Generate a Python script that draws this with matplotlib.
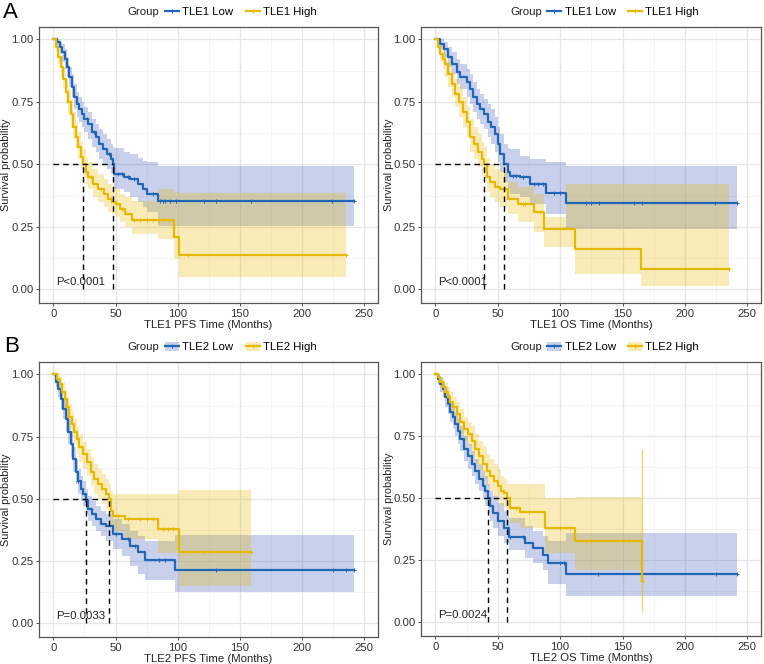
import numpy as np
import matplotlib
matplotlib.use("Agg")
from matplotlib import pyplot as plt
from matplotlib.lines import Line2D
from matplotlib.patches import Patch

plt.rcParams['font.family'] = ['Liberation Sans', 'DejaVu Sans']

BLUE = '#2167b8'
BLUE_FILL = '#4a64c0'
YEL = '#e7b800'
YEL_FILL = '#e7b800'
FS = 8.2

# ---- TLE1 PFS ----
pfs1_low_t = [0, 3, 5, 7, 9, 11, 13, 15, 17, 19, 21, 23, 25, 28, 31, 34, 37, 40, 43, 46, 48, 49, 57, 62, 68, 72, 75, 84, 242]
pfs1_low_s = [1.0, 0.99, 0.97, 0.95, 0.92, 0.89, 0.85, 0.81, 0.77, 0.74, 0.72, 0.70, 0.68, 0.66, 0.63, 0.61, 0.58, 0.56, 0.54, 0.52, 0.50, 0.46, 0.45, 0.44, 0.42, 0.40, 0.38, 0.355, 0.355]
pfs1_low_hi = [1.0, 1.0, 0.99, 0.98, 0.96, 0.93, 0.89, 0.86, 0.82, 0.79, 0.77, 0.75, 0.73, 0.71, 0.68, 0.66, 0.64, 0.62, 0.60, 0.58, 0.57, 0.565, 0.55, 0.54, 0.525, 0.515, 0.51, 0.495, 0.495]
pfs1_low_lo = [1.0, 0.97, 0.94, 0.91, 0.88, 0.85, 0.81, 0.77, 0.72, 0.69, 0.67, 0.65, 0.63, 0.60, 0.57, 0.55, 0.52, 0.50, 0.48, 0.46, 0.44, 0.40, 0.39, 0.37, 0.35, 0.33, 0.31, 0.255, 0.255]
pfs1_low_cens = [27, 33, 45, 52, 55, 60, 65, 80, 86, 88, 90, 94, 99, 121, 131, 159, 224, 242]

pfs1_high_t = [0, 2, 4, 6, 8, 10, 12, 14, 16, 18, 20, 22, 24, 26, 28, 32, 36, 41, 44, 47, 50, 54, 58, 63, 84, 97, 101, 235]
pfs1_high_s = [1.0, 0.97, 0.93, 0.89, 0.84, 0.79, 0.75, 0.70, 0.65, 0.61, 0.57, 0.53, 0.50, 0.47, 0.45, 0.42, 0.40, 0.38, 0.36, 0.35, 0.34, 0.32, 0.30, 0.277, 0.277, 0.208, 0.137, 0.137]
pfs1_high_hi = [1.0, 0.99, 0.97, 0.93, 0.89, 0.84, 0.80, 0.76, 0.71, 0.67, 0.63, 0.59, 0.56, 0.53, 0.51, 0.48, 0.46, 0.44, 0.42, 0.41, 0.40, 0.38, 0.37, 0.355, 0.40, 0.39, 0.385, 0.385]
pfs1_high_lo = [1.0, 0.95, 0.90, 0.85, 0.80, 0.74, 0.70, 0.65, 0.60, 0.56, 0.52, 0.48, 0.45, 0.42, 0.40, 0.37, 0.35, 0.33, 0.31, 0.30, 0.29, 0.27, 0.25, 0.22, 0.20, 0.12, 0.05, 0.05]
pfs1_high_cens = [30, 38, 46, 55, 65, 70, 75, 80, 85, 88, 93, 108, 235]

# ---- TLE1 OS ----
os1_low_t = [0, 4, 7, 10, 13, 17, 20, 25, 28, 30, 33, 36, 39, 42, 45, 48, 50, 52, 55, 58, 60, 68, 76, 89, 105, 242]
os1_low_s = [1.0, 0.98, 0.96, 0.93, 0.90, 0.87, 0.85, 0.83, 0.80, 0.77, 0.74, 0.72, 0.70, 0.67, 0.65, 0.62, 0.58, 0.54, 0.50, 0.47, 0.455, 0.45, 0.42, 0.385, 0.345, 0.345]
os1_low_hi = [1.0, 1.0, 0.99, 0.97, 0.95, 0.92, 0.90, 0.88, 0.86, 0.83, 0.80, 0.78, 0.76, 0.74, 0.72, 0.69, 0.65, 0.62, 0.58, 0.565, 0.56, 0.535, 0.52, 0.51, 0.495, 0.495]
os1_low_lo = [1.0, 0.96, 0.93, 0.89, 0.86, 0.82, 0.80, 0.77, 0.74, 0.71, 0.68, 0.66, 0.64, 0.61, 0.58, 0.55, 0.51, 0.47, 0.43, 0.40, 0.38, 0.37, 0.34, 0.30, 0.24, 0.24]
os1_low_cens = [62, 65, 70, 79, 82, 86, 95, 100, 121, 125, 131, 159, 166, 224, 242]

os1_high_t = [0, 2, 4, 6, 8, 10, 13, 16, 19, 22, 25, 28, 31, 34, 37, 39, 41, 44, 48, 52, 58, 66, 79, 87, 105, 112, 165, 235]
os1_high_s = [1.0, 0.97, 0.94, 0.92, 0.90, 0.86, 0.82, 0.78, 0.75, 0.71, 0.67, 0.61, 0.58, 0.55, 0.52, 0.50, 0.45, 0.43, 0.41, 0.40, 0.36, 0.34, 0.31, 0.24, 0.24, 0.16, 0.08, 0.08]
os1_high_hi = [1.0, 0.99, 0.98, 0.96, 0.94, 0.91, 0.87, 0.84, 0.81, 0.77, 0.73, 0.68, 0.65, 0.62, 0.59, 0.57, 0.52, 0.50, 0.48, 0.47, 0.43, 0.41, 0.38, 0.29, 0.42, 0.42, 0.42, 0.42]
os1_high_lo = [1.0, 0.95, 0.91, 0.88, 0.85, 0.81, 0.77, 0.73, 0.69, 0.65, 0.61, 0.55, 0.52, 0.49, 0.46, 0.44, 0.39, 0.37, 0.35, 0.33, 0.30, 0.27, 0.23, 0.17, 0.17, 0.06, 0.013, 0.013]
os1_high_cens = [70, 72, 84, 235]

# ---- TLE2 PFS ----
pfs2_low_t = [0, 2, 4, 6, 8, 10, 12, 14, 16, 18, 20, 22, 24, 26, 28, 31, 34, 38, 42, 48, 55, 62, 68, 74, 98, 242]
pfs2_low_s = [1.0, 0.97, 0.94, 0.90, 0.86, 0.82, 0.77, 0.72, 0.66, 0.61, 0.57, 0.54, 0.52, 0.49, 0.46, 0.44, 0.42, 0.40, 0.39, 0.36, 0.34, 0.31, 0.285, 0.255, 0.213, 0.213]
pfs2_low_hi = [1.0, 0.99, 0.97, 0.94, 0.90, 0.86, 0.82, 0.77, 0.71, 0.66, 0.62, 0.59, 0.57, 0.54, 0.51, 0.49, 0.47, 0.45, 0.44, 0.42, 0.40, 0.37, 0.35, 0.33, 0.356, 0.356]
pfs2_low_lo = [1.0, 0.95, 0.91, 0.86, 0.82, 0.77, 0.72, 0.67, 0.61, 0.56, 0.52, 0.49, 0.47, 0.44, 0.41, 0.39, 0.37, 0.35, 0.33, 0.30, 0.27, 0.23, 0.20, 0.175, 0.124, 0.124]
pfs2_low_cens = [20, 30, 50, 60, 66, 85, 90, 131, 225, 235, 242]

pfs2_high_t = [0, 3, 5, 7, 9, 11, 13, 15, 17, 19, 21, 24, 27, 30, 33, 36, 39, 42, 44.5, 46, 48, 58, 84, 101, 159]
pfs2_high_s = [1.0, 0.98, 0.96, 0.93, 0.90, 0.87, 0.83, 0.80, 0.77, 0.74, 0.71, 0.68, 0.65, 0.61, 0.58, 0.56, 0.54, 0.52, 0.50, 0.45, 0.43, 0.42, 0.38, 0.285, 0.285]
pfs2_high_hi = [1.0, 1.0, 0.99, 0.97, 0.94, 0.91, 0.88, 0.85, 0.82, 0.79, 0.76, 0.73, 0.70, 0.67, 0.64, 0.62, 0.60, 0.58, 0.56, 0.53, 0.52, 0.52, 0.52, 0.536, 0.536]
pfs2_high_lo = [1.0, 0.96, 0.93, 0.89, 0.86, 0.82, 0.78, 0.75, 0.72, 0.68, 0.65, 0.62, 0.59, 0.55, 0.52, 0.50, 0.48, 0.46, 0.44, 0.39, 0.37, 0.34, 0.283, 0.15, 0.15]
pfs2_high_cens = [52, 60, 70, 75, 80, 88, 92, 96, 109, 121, 159]

# ---- TLE2 OS ----
os2_low_t = [0, 2, 4, 6, 8, 10, 12, 14, 16, 18, 20, 23, 26, 29, 32, 35, 38, 40, 42, 44, 46, 50, 55, 59, 72, 78, 86, 90, 105, 242]
os2_low_s = [1.0, 0.98, 0.96, 0.94, 0.91, 0.88, 0.85, 0.83, 0.80, 0.77, 0.74, 0.70, 0.67, 0.64, 0.61, 0.58, 0.55, 0.53, 0.50, 0.47, 0.44, 0.41, 0.38, 0.345, 0.32, 0.30, 0.27, 0.24, 0.195, 0.195]
os2_low_hi = [1.0, 1.0, 0.99, 0.97, 0.95, 0.92, 0.89, 0.87, 0.85, 0.82, 0.79, 0.75, 0.72, 0.69, 0.66, 0.64, 0.61, 0.59, 0.56, 0.53, 0.51, 0.48, 0.45, 0.42, 0.39, 0.37, 0.35, 0.33, 0.362, 0.362]
os2_low_lo = [1.0, 0.96, 0.93, 0.91, 0.87, 0.84, 0.81, 0.78, 0.75, 0.72, 0.69, 0.65, 0.62, 0.59, 0.56, 0.53, 0.50, 0.47, 0.44, 0.41, 0.38, 0.35, 0.32, 0.29, 0.26, 0.24, 0.21, 0.156, 0.105, 0.105]
os2_low_cens = [60, 70, 100, 103, 130, 225, 242]

os2_high_t = [0, 2, 4, 6, 8, 10, 12, 14, 17, 20, 23, 26, 29, 32, 35, 38, 41, 44, 47, 50, 53, 55, 57.5, 60, 68, 88, 112, 166]
os2_high_s = [1.0, 0.99, 0.97, 0.95, 0.93, 0.91, 0.89, 0.87, 0.84, 0.81, 0.78, 0.76, 0.73, 0.70, 0.67, 0.64, 0.61, 0.59, 0.57, 0.55, 0.53, 0.52, 0.50, 0.46, 0.445, 0.38, 0.33, 0.165]
os2_high_hi = [1.0, 1.0, 0.99, 0.98, 0.97, 0.95, 0.93, 0.91, 0.89, 0.86, 0.83, 0.81, 0.79, 0.76, 0.73, 0.71, 0.68, 0.66, 0.64, 0.62, 0.59, 0.58, 0.56, 0.56, 0.56, 0.50, 0.505, 0.70]
os2_high_lo = [1.0, 0.97, 0.95, 0.92, 0.90, 0.87, 0.85, 0.83, 0.79, 0.76, 0.73, 0.71, 0.67, 0.64, 0.61, 0.58, 0.55, 0.53, 0.51, 0.49, 0.47, 0.46, 0.44, 0.40, 0.38, 0.28, 0.213, 0.04]
os2_high_cens = [65, 75, 100, 108, 121, 125, 155, 166]

panels = [
    dict(name='TLE1', xlabel='TLE1 PFS Time (Months)', pval='P<0.0001',
         low=(pfs1_low_t, pfs1_low_s, pfs1_low_lo, pfs1_low_hi, pfs1_low_cens),
         high=(pfs1_high_t, pfs1_high_s, pfs1_high_lo, pfs1_high_hi, pfs1_high_cens)),
    dict(name='TLE1', xlabel='TLE1 OS Time (Months)', pval='P<0.0001',
         low=(os1_low_t, os1_low_s, os1_low_lo, os1_low_hi, os1_low_cens),
         high=(os1_high_t, os1_high_s, os1_high_lo, os1_high_hi, os1_high_cens)),
    dict(name='TLE2', xlabel='TLE2 PFS Time (Months)', pval='P=0.0033',
         low=(pfs2_low_t, pfs2_low_s, pfs2_low_lo, pfs2_low_hi, pfs2_low_cens),
         high=(pfs2_high_t, pfs2_high_s, pfs2_high_lo, pfs2_high_hi, pfs2_high_cens)),
    dict(name='TLE2', xlabel='TLE2 OS Time (Months)', pval='P=0.0024',
         low=(os2_low_t, os2_low_s, os2_low_lo, os2_low_hi, os2_low_cens),
         high=(os2_high_t, os2_high_s, os2_high_lo, os2_high_hi, os2_high_cens)),
]

# axes boxes in pixels (left, top, right, bottom) of a 764x664 canvas
boxes = [(39, 27, 378, 303), (421, 27, 761, 303), (39, 362, 378, 637), (421, 362, 761, 636)]

W, H = 764, 664
fig = plt.figure(figsize=(W / 100, H / 100), dpi=100)


def km(ax, data, color, fill, alpha):
    t, s, lo, hi, cens = [np.asarray(a, dtype=float) for a in data]
    ax.fill_between(t, lo, hi, step='post', color=fill, alpha=alpha, lw=0, zorder=2)
    if lo[-1] != lo[-2]:
        ax.vlines(t[-1], lo[-1], hi[-1], color=fill, alpha=alpha + 0.3, lw=1, zorder=2)
    ax.step(t, s, where='post', color=color, lw=1.6, zorder=4)
    idx = np.searchsorted(t, cens, side='right') - 1
    ax.plot(cens, s[idx], '+', color=color, ms=3.5, mew=0.7, zorder=5)
    return t[np.argmax(s <= 0.5)]


for i, (p, b) in enumerate(zip(panels, boxes)):
    l, tp, r, bt = b
    ax = fig.add_axes([l / W, 1 - bt / H, (r - l) / W, (bt - tp) / H])
    ax.set_xlim(-11.5, 261)
    ax.set_ylim(-0.055, 1.05)
    ax.set_xticks([0, 50, 100, 150, 200, 250])
    ax.set_xticks([25, 75, 125, 175, 225], minor=True)
    ax.set_yticks([0, 0.25, 0.5, 0.75, 1.0])
    ax.set_yticks([0.125, 0.375, 0.625, 0.875], minor=True)
    ax.set_yticklabels(['0.00', '0.25', '0.50', '0.75', '1.00'])
    ax.grid(True, which='major', color='#e6e6e6', lw=0.9, zorder=0)
    ax.grid(True, which='minor', color='#f0f0f0', lw=0.5, zorder=0)
    ax.set_axisbelow(True)
    for sp in ax.spines.values():
        sp.set_color('#555555')
        sp.set_linewidth(0.9)
    ax.tick_params(which='major', length=2.5, width=0.6, color='#333333', labelsize=FS,
                   labelcolor='#333333', pad=1.5)
    ax.tick_params(which='minor', length=0)

    m_low = km(ax, p['low'], BLUE, BLUE_FILL, 0.3)
    m_high = km(ax, p['high'], YEL, YEL_FILL, 0.28)

    # median lines
    ax.plot([0, max(m_low, m_high)], [0.5, 0.5], ls=(0, (4, 3)), color='black', lw=1, zorder=6)
    ax.vlines([m_low, m_high], 0, 0.5, linestyles=(0, (4, 3)), colors='black', lw=1, zorder=6)

    ax.text(2.5, 0.03, p['pval'], fontsize=FS, color='#222222', ha='left', va='center', zorder=7)
    ax.set_xlabel(p['xlabel'], fontsize=FS, color='#222222', labelpad=1)
    ax.set_ylabel('Survival probability', fontsize=7.8, color='#222222')
    ax.yaxis.set_label_coords(-27.5 / (r - l), 0.5)

    # legend
    ly = (bt - (tp - 15)) / (bt - tp)
    ax.text(0.262, ly, 'Group', transform=ax.transAxes, fontsize=FS, color='#222222',
            ha='left', va='center')
    if i < 2:
        handles = [Line2D([], [], color=BLUE, lw=1.6, marker='+', ms=3.5, mew=0.7),
                   Line2D([], [], color=YEL, lw=1.6, marker='+', ms=3.5, mew=0.7)]
    else:
        handles = [(Patch(color=BLUE_FILL, alpha=0.3, lw=0), Line2D([], [], color=BLUE, lw=1.6, marker='+', ms=3.5, mew=0.7)),
                   (Patch(color=YEL_FILL, alpha=0.28, lw=0), Line2D([], [], color=YEL, lw=1.6, marker='+', ms=3.5, mew=0.7))]
    ax.legend(handles, [p['name'] + ' Low', p['name'] + ' High'], ncol=2, frameon=False,
              loc='center left', bbox_to_anchor=(0.372, ly), fontsize=FS,
              handlelength=1.2, handleheight=0.9, handletextpad=0.3, columnspacing=1.1,
              borderaxespad=0, borderpad=0)

fig.text(3 / W, 1 - 12 / H, 'A', fontsize=16, va='center', ha='left')
fig.text(4 / W, 1 - 346 / H, 'B', fontsize=16, va='center', ha='left')

fig.savefig('out.png', dpi=100)
